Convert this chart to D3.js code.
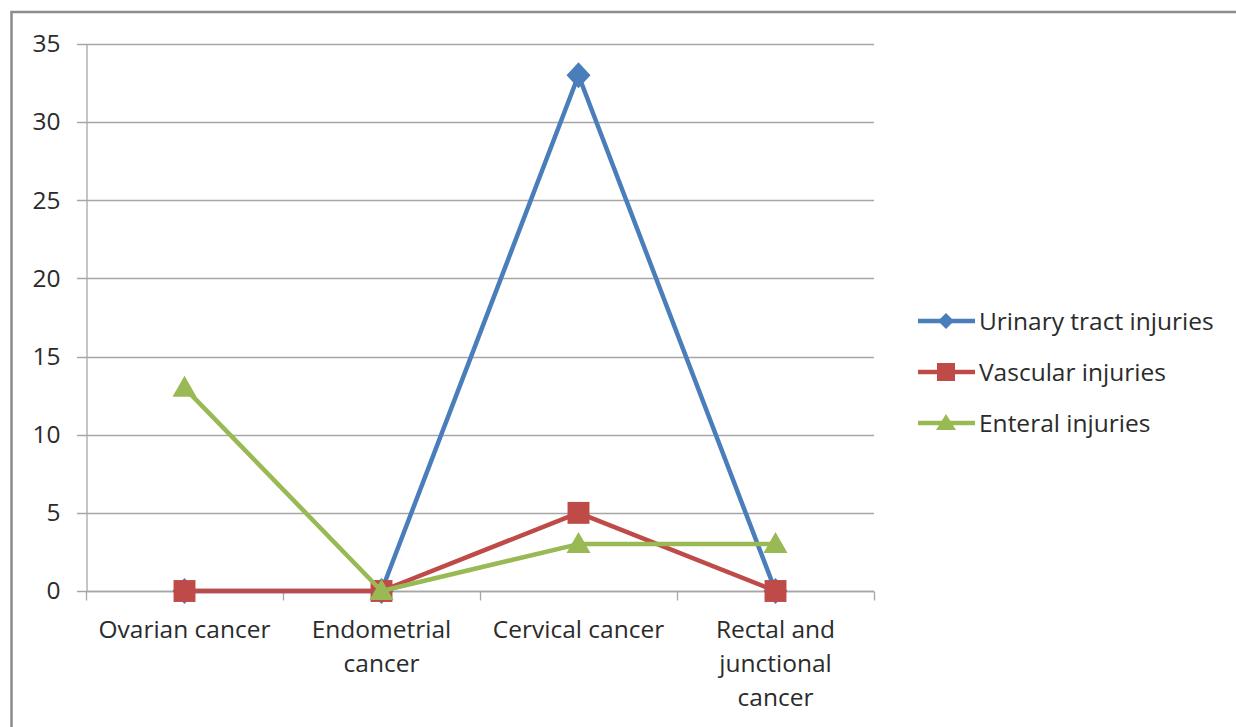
<!DOCTYPE html>
<html><head><meta charset="utf-8">
<script src="https://d3js.org/d3.v7.min.js"></script>
<style>body{margin:0;background:#fff}svg{display:block}</style>
</head><body>
<script>
const categories = ["Ovarian cancer", "Endometrial cancer", "Cervical cancer", "Rectal and junctional cancer"];
const categoryLines = [["Ovarian cancer"], ["Endometrial", "cancer"], ["Cervical cancer"], ["Rectal and", "junctional", "cancer"]];
const seriesNames = ["Urinary tract injuries", "Vascular injuries", "Enteral injuries"];
const urinary = [0, 0, 33, 0];
const vascular = [0, 0, 5, 0];
const enteral = [13, 0, 3, 3];
const yTicks = [0, 5, 10, 15, 20, 25, 30, 35];

const W = 1236, H = 727;
const font = "'Open Sans', 'Noto Sans', sans-serif";
const fs = 24.5;
const txtColor = "#2b2b2b";
const svg = d3.select("body").append("svg").attr("width", W).attr("height", H);

svg.append("rect").attr("x", 11.5).attr("y", 12).attr("width", W + 20).attr("height", H + 20)
  .attr("fill", "none").attr("stroke", "#8c8c8c").attr("stroke-width", 2.5);

const x = d3.scaleBand().domain(categories).range([86, 874]);
const y = d3.scaleLinear().domain([0, 35]).range([591, 44]);

// gridlines
svg.append("g").selectAll("line").data(yTicks).join("line")
  .attr("x1", 77).attr("x2", 874)
  .attr("y1", d => Math.round(y(d)) + 0.5).attr("y2", d => Math.round(y(d)) + 0.5)
  .attr("stroke", "#a6a6a6").attr("stroke-width", 1.3);

// y axis
const yAxis = svg.append("g").attr("transform", "translate(86.5,0)")
  .call(d3.axisLeft(y).tickValues(yTicks).tickSize(0).tickPadding(26));
yAxis.select(".domain").attr("stroke", "#a6a6a6").attr("stroke-width", 1.3);
yAxis.selectAll("text").attr("font-family", font).attr("font-size", fs).attr("fill", txtColor);

// x axis
const xg = svg.append("g").attr("transform", "translate(0,591.5)");
xg.append("line").attr("x1", 86).attr("x2", 874).attr("stroke", "#a6a6a6").attr("stroke-width", 1.3);
const bounds = categories.map(c => x(c)).concat([x.range()[1]]);
xg.selectAll("line.tk").data(bounds).join("line").attr("class", "tk")
  .attr("x1", d => Math.round(d) + 0.5).attr("x2", d => Math.round(d) + 0.5)
  .attr("y1", 0).attr("y2", 9).attr("stroke", "#a6a6a6").attr("stroke-width", 1.3);
categories.forEach((c, i) => {
  const t = xg.append("text").attr("x", x(c) + x.bandwidth() / 2).attr("y", 46)
    .attr("text-anchor", "middle").attr("font-family", font).attr("font-size", fs).attr("fill", txtColor);
  categoryLines[i].forEach((l, j) => t.append("tspan").attr("x", x(c) + x.bandwidth() / 2).attr("dy", j === 0 ? 0 : 34).text(l));
});

const colors = ["#4a7ebb", "#be4b48", "#98b954"];
const data = [urinary, vascular, enteral];
const cx = i => x(categories[i]) + x.bandwidth() / 2;
const line = d3.line().x((d, i) => cx(i)).y(d => y(d));

function sym(k) {
  if (k === 0) return "M0,-13L12,0L0,13L-12,0Z";
  if (k === 2) return "M0,-12L12,9L-12,9Z";
  return d3.symbol().type(d3.symbolSquare).size(480)();
}

data.forEach((vals, k) => {
  const g = svg.append("g");
  g.append("path").datum(vals).attr("d", line).attr("fill", "none")
    .attr("stroke", colors[k]).attr("stroke-width", 4.5).attr("stroke-linejoin", "round");
  g.selectAll("path.m").data(vals).join("path").attr("class", "m")
    .attr("transform", (d, i) => `translate(${cx(i)},${y(d)})`)
    .attr("d", sym(k)).attr("fill", colors[k]);
});

// legend
const leg = svg.append("g");
seriesNames.forEach((n, k) => {
  const ly = 321 + k * 51;
  leg.append("line").attr("x1", 918).attr("x2", 975).attr("y1", ly).attr("y2", ly)
    .attr("stroke", colors[k]).attr("stroke-width", 4.5);
  const s = k === 0 ? "M0,-8L8,0L0,8L-8,0Z" : (k === 1 ? "M-9,-9H9V9H-9Z" : "M0,-9L10,7L-10,7Z");
  leg.append("path").attr("transform", `translate(946,${ly})`).attr("d", s).attr("fill", colors[k]);
  leg.append("text").attr("x", 979).attr("y", ly).attr("dy", "0.35em")
    .attr("font-family", font).attr("font-size", fs).attr("fill", txtColor).text(n);
});
</script>
</body></html>
